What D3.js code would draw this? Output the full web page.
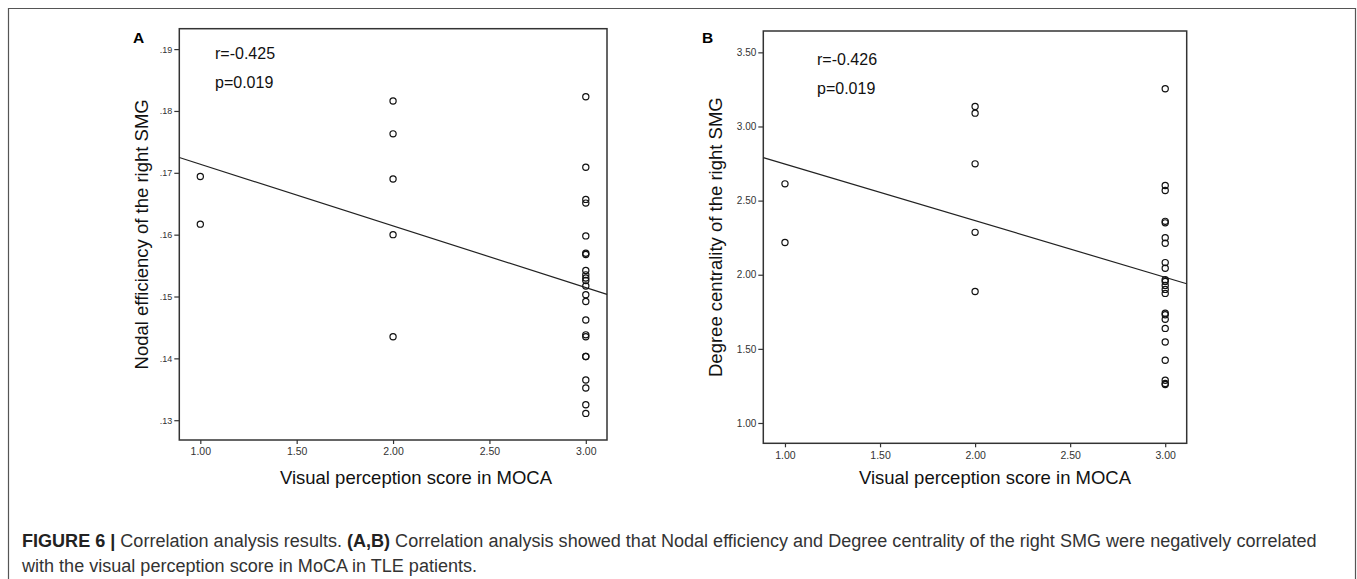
<!DOCTYPE html>
<html>
<head>
<meta charset="utf-8">
<script src="https://cdn.jsdelivr.net/npm/d3@7"></script>
<style>
  html, body { margin: 0; padding: 0; background: #fff; }
  svg { display: block; }
</style>
</head>
<body>
<svg id="chart" width="1357" height="579"></svg>
<script>
// ---------------- data ----------------
const scoreLevels = [1, 2, 3];
const xTickValues = [1.00, 1.50, 2.00, 2.50, 3.00];

// Panel A: nodal efficiency of the right SMG, grouped by visual perception score
const nodalAt1 = [0.1694, 0.1617];
const nodalAt2 = [0.1816, 0.1763, 0.1690, 0.1600, 0.1435];
const nodalAt3 = [0.1823, 0.1709, 0.1657, 0.1651, 0.1598, 0.1570, 0.1568, 0.1542,
                  0.1535, 0.1530, 0.1526, 0.1517, 0.1503, 0.1492, 0.1462, 0.1438,
                  0.1435, 0.1403, 0.1403, 0.1365, 0.1352, 0.1325, 0.1311];
const yTicksA = [0.13, 0.14, 0.15, 0.16, 0.17, 0.18, 0.19];

// Panel B: degree centrality of the right SMG
const degreeAt1 = [2.613, 2.217];
const degreeAt2 = [3.135, 3.090, 2.748, 2.286, 1.887];
const degreeAt3 = [3.254, 2.602, 2.568, 2.360, 2.350, 2.250, 2.212, 2.082, 2.044,
                   1.966, 1.955, 1.928, 1.901, 1.874, 1.741, 1.730, 1.699, 1.638,
                   1.546, 1.423, 1.288, 1.266, 1.260];
const yTicksB = [1.00, 1.50, 2.00, 2.50, 3.00, 3.50];

const statsA = ["r=-0.425", "p=0.019"];
const statsB = ["r=-0.426", "p=0.019"];
const xTitle = "Visual perception score in MOCA";
const yTitleA = "Nodal efficiency of the right SMG";
const yTitleB = "Degree centrality of the right SMG";

function toPoints(groups) {
  const pts = [];
  groups.forEach((vals, i) => vals.forEach(v => pts.push({x: scoreLevels[i], y: v})));
  return pts;
}
const pointsA = toPoints([nodalAt1, nodalAt2, nodalAt3]);
const pointsB = toPoints([degreeAt1, degreeAt2, degreeAt3]);

// ---------------- drawing ----------------
const svg = d3.select("#chart");
const FONT = "'Liberation Sans', Arial, Helvetica, sans-serif";
const NARROW = "'Liberation Sans Narrow', 'Arial Narrow', 'Liberation Sans', Arial, sans-serif";

// outer figure frame
svg.append("path")
  .attr("d", "M8.5,579 V8.5 H1355.5 V579")
  .attr("fill", "none").attr("stroke", "#555").attr("stroke-width", 1.2);

function fit(points) {
  const mx = d3.mean(points, d => d.x), my = d3.mean(points, d => d.y);
  const sxy = d3.sum(points, d => (d.x - mx) * (d.y - my));
  const sxx = d3.sum(points, d => (d.x - mx) * (d.x - mx));
  const b = sxy / sxx;
  return {b, a: my - b * mx};
}

function panel(cfg) {
  const g = svg.append("g");
  const x = d3.scaleLinear().domain(cfg.xDomain).range([cfg.left, cfg.right]);
  const y = d3.scaleLinear().domain(cfg.yDomain).range([cfg.bottom, cfg.top]);

  const yAxis = d3.axisLeft(y).tickValues(cfg.yTicks).tickSize(5).tickPadding(2)
    .tickFormat(cfg.yFormat);
  const gy = g.append("g").attr("transform", `translate(${cfg.left},0)`).call(yAxis);
  gy.select(".domain").remove();
  gy.selectAll(".tick line").attr("stroke", "#333").attr("stroke-width", 1.2);
  gy.selectAll(".tick text").attr("font-family", NARROW).attr("font-size", cfg.yTickSize)
    .attr("fill", "#333");

  const xAxis = d3.axisBottom(x).tickValues(xTickValues).tickSize(4).tickPadding(4)
    .tickFormat(d3.format(".2f"));
  const gx = g.append("g").attr("transform", `translate(0,${cfg.bottom})`).call(xAxis);
  gx.select(".domain").remove();
  gx.selectAll(".tick line").attr("stroke", "#333").attr("stroke-width", 1.2);
  gx.selectAll(".tick text").attr("font-family", NARROW).attr("font-size", 10.5)
    .attr("fill", "#333");

  g.append("rect")
    .attr("x", cfg.left).attr("y", cfg.top)
    .attr("width", cfg.right - cfg.left).attr("height", cfg.bottom - cfg.top)
    .attr("fill", "none").attr("stroke", "#333").attr("stroke-width", 1.5);

  const f = fit(cfg.points);
  const xd = x.domain();
  g.append("line")
    .attr("x1", x(xd[0])).attr("y1", y(f.a + f.b * xd[0]))
    .attr("x2", x(xd[1])).attr("y2", y(f.a + f.b * xd[1]))
    .attr("stroke", "#222").attr("stroke-width", 1.2);

  g.selectAll("circle.pt").data(cfg.points).join("circle")
    .attr("class", "pt")
    .attr("cx", d => x(d.x)).attr("cy", d => y(d.y)).attr("r", 3.1)
    .attr("fill", "none").attr("stroke", "#111").attr("stroke-width", 1.2);

  g.selectAll("text.stat").data(cfg.stats).join("text")
    .attr("class", "stat")
    .attr("x", cfg.statX).attr("y", (d, i) => cfg.statY + i * 29.5)
    .attr("font-family", FONT).attr("font-size", 16).attr("fill", "#111")
    .text(d => d);

  g.append("text").attr("x", cfg.letterX).attr("y", 42.5)
    .attr("font-family", FONT).attr("font-size", 15.5).attr("font-weight", "bold")
    .attr("fill", "#000").text(cfg.letter);

  g.append("text")
    .attr("transform", `translate(${cfg.yTitleX},${(cfg.top + cfg.bottom) / 2}) rotate(-90)`)
    .attr("text-anchor", "middle")
    .attr("font-family", FONT).attr("font-size", 18.5).attr("fill", "#111")
    .text(cfg.yTitle);
  g.append("text")
    .attr("x", cfg.xTitleX).attr("y", 484)
    .attr("text-anchor", "middle")
    .attr("font-family", FONT).attr("font-size", 18.5).attr("fill", "#111")
    .text(xTitle);
}

panel({
  left: 179.3, right: 607, top: 28.7, bottom: 440,
  xDomain: [0.891, 3.11], yDomain: [0.1268, 0.1933],
  yTicks: yTicksA, yFormat: d => d3.format(".2f")(d).replace(/^0/, ""), yTickSize: 9,
  points: pointsA, stats: statsA, statX: 215, statY: 58.5,
  letter: "A", letterX: 133, yTitle: yTitleA, yTitleX: 148, xTitleX: 416
});

panel({
  left: 763.3, right: 1186.7, top: 31, bottom: 443.3,
  xDomain: [0.886, 3.113], yDomain: [0.863, 3.644],
  yTicks: yTicksB, yFormat: d3.format(".2f"), yTickSize: 10,
  points: pointsB, stats: statsB, statX: 817, statY: 64.5,
  letter: "B", letterX: 702, yTitle: yTitleB, yTitleX: 722, xTitleX: 995
});

// caption
const cap = svg.append("g").attr("font-family", FONT).attr("font-size", 18).attr("fill", "#333");
const l1 = cap.append("text").attr("x", 22).attr("y", 547);
l1.append("tspan").attr("font-weight", "bold").attr("fill", "#222").text("FIGURE 6 | ");
l1.append("tspan").text("Correlation analysis results. ");
l1.append("tspan").attr("font-weight", "bold").attr("fill", "#222").text("(A,B)");
l1.append("tspan").text(" Correlation analysis showed that Nodal efficiency and Degree centrality of the right SMG were negatively correlated");
const l2 = cap.append("text").attr("x", 22).attr("y", 572)
  .text("with the visual perception score in MoCA in TLE patients.");
// fit the first caption line to the width it occupies in the figure
const w1 = l1.node().getComputedTextLength();
const fs = 18 * 1296 / w1;
cap.attr("font-size", fs);
</script>
</body>
</html>
